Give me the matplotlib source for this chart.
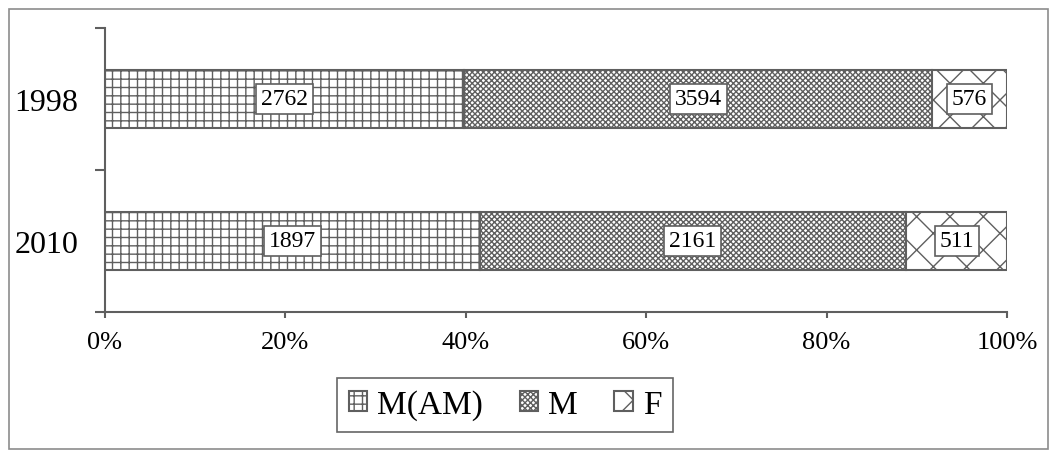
import numpy as np
import matplotlib
matplotlib.use('Agg')
import matplotlib.pyplot as plt
from matplotlib.patches import Rectangle
from matplotlib.ticker import PercentFormatter

# Data
years = ['2010', '1998']
series_names = ['M(AM)', 'M', 'F']
m_am = [1897, 2762]
m = [2161, 3594]
f = [511, 576]

hatches = ['++', 'xxxxxx', 'x']
edge = '#5f5f5f'

plt.rcParams['font.family'] = ['Liberation Serif', 'DejaVu Serif']
plt.rcParams['hatch.linewidth'] = 1.0

values = np.array([m_am, m, f], dtype=float)
totals = values.sum(axis=0)
shares = values / totals * 100

fig = plt.figure(figsize=(10.56, 4.56), dpi=100)
ax = fig.add_axes([105 / 1056, 1 - 313 / 456, (1007 - 105) / 1056, (313 - 29) / 456])

# outer chart border
fig.patches.append(Rectangle((9 / 1056, 6 / 456), 1039 / 1056, 440 / 456,
                             transform=fig.transFigure, fill=False,
                             edgecolor='#8c8c8c', linewidth=1.2))

y = np.arange(len(years))
left = np.zeros(len(years))
for i, name in enumerate(series_names):
    bars = ax.barh(y, shares[i], left=left, height=0.41, color='white',
                   edgecolor=edge, hatch=hatches[i], linewidth=1.5, label=name)
    for j, b in enumerate(bars):
        ax.text(left[j] + shares[i][j] / 2, y[j], '%d' % values[i][j],
                ha='center', va='center', fontsize=17,
                bbox=dict(boxstyle='square,pad=0.2', facecolor='white',
                          edgecolor=edge, linewidth=1.2))
    left += shares[i]

ax.set_xlim(0, 100)
ax.set_ylim(-0.5, 1.5)
ax.xaxis.set_major_formatter(PercentFormatter(decimals=0))
ax.set_xticks([0, 20, 40, 60, 80, 100])
ax.set_yticks(y)
ax.set_yticklabels(years, fontsize=23)
ax.set_yticks([-0.5, 0.5, 1.5], minor=True)
ax.tick_params(axis='y', which='major', length=0, pad=19)
ax.tick_params(axis='y', which='minor', length=7, width=1.5, color=edge)
ax.tick_params(axis='x', length=4, width=1.5, color=edge, labelsize=19, pad=10)

for s in ['top', 'right']:
    ax.spines[s].set_visible(False)
for s in ['left', 'bottom']:
    ax.spines[s].set_color(edge)
    ax.spines[s].set_linewidth(1.5)

leg = fig.legend(loc='center', bbox_to_anchor=(505 / 1056, 1 - 406 / 456), ncol=3,
                 fontsize=24, frameon=True, fancybox=False, handlelength=0.55,
                 handleheight=0.55, handletextpad=0.3, columnspacing=1.1,
                 borderpad=0.35, borderaxespad=0)
leg.get_frame().set_edgecolor('#404040')
leg.get_frame().set_linewidth(1.2)

fig.savefig('out.png', dpi=100)
